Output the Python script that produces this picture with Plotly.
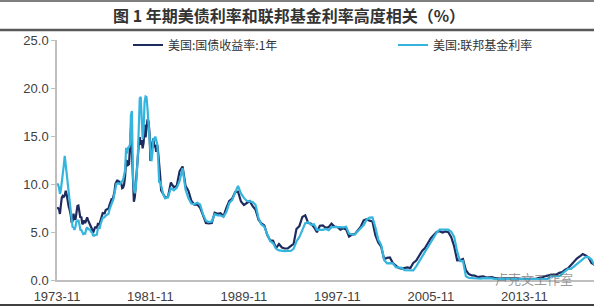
import pandas as pd
import plotly.graph_objects as go

# ---------------- data ----------------
# monthly 1973-11 .. 1982-12, then quarterly (Feb/May/Aug/Nov) 1983-02 .. 2020-02
dates_monthly = pd.date_range("1973-11-01", "1982-12-01", freq="MS")
dates_quarterly = pd.date_range("1983-02-01", "2020-02-01", freq="3MS")
dates = list(dates_monthly) + list(dates_quarterly)

treasury_1y = [
    # 1973-11..12
    7.45, 7.50,
    # 1974
    7.42, 6.88, 7.76, 8.62, 8.78, 8.67, 8.80, 9.30, 8.87, 8.05, 7.66, 7.31,
    # 1975
    6.83, 5.98, 6.11, 6.90, 6.39, 6.29, 7.11, 7.70, 7.75, 6.95, 6.49, 6.60,
    # 1976
    5.81, 5.91, 6.21, 5.92, 6.40, 6.52, 6.20, 6.00, 5.84, 5.50, 5.29, 4.89,
    # 1977
    5.29, 5.47, 5.50, 5.44, 5.84, 5.80, 5.94, 6.37, 6.53, 6.97, 6.95, 6.96,
    # 1978
    7.28, 7.34, 7.31, 7.45, 7.82, 8.09, 8.39, 8.31, 8.64, 9.14, 10.01, 10.30,
    # 1979
    10.41, 10.24, 10.25, 10.12, 10.12, 9.57, 9.64, 9.98, 10.84, 12.44, 12.39, 11.98,
    # 1980
    12.06, 13.92, 15.82, 13.30, 9.39, 8.16, 8.65, 10.24, 11.52, 12.49, 14.15, 14.88,
    # 1981
    14.08, 14.57, 13.71, 14.32, 16.20, 14.86, 15.72, 16.72, 16.52, 15.38, 12.41, 12.85,
    # 1982
    14.32, 14.73, 13.95, 13.98, 13.34, 14.07, 13.24, 11.43, 10.85, 9.32, 9.16, 8.91,
    # quarterly from 1983
    8.62, 8.63, 10.16, 9.66,
    9.81, 11.34, 11.82, 9.82,
    9.29, 8.25, 7.86, 7.88,
    7.51, 6.76, 5.93, 5.89,
    5.94, 7.01, 6.89, 6.96,
    6.64, 7.50, 8.24, 8.49,
    9.17, 9.20, 8.17, 7.81,
    8.00, 8.23, 7.69, 7.31,
    6.27, 5.90, 5.68, 4.69,
    4.13, 4.09, 3.32, 3.75,
    3.39, 3.28, 3.30, 3.57,
    3.76, 5.32, 5.62, 6.57,
    6.73, 5.95, 5.86, 5.50,
    4.97, 5.65, 5.68, 5.44,
    5.50, 5.87, 5.56, 5.52,
    5.24, 5.40, 5.27, 4.53,
    4.73, 4.78, 5.20, 5.55,
    6.22, 6.33, 6.18, 6.09,
    4.68, 3.91, 3.47, 2.18,
    2.30, 2.35, 1.76, 1.49,
    1.24, 1.18, 1.24, 1.31,
    1.24, 1.78, 2.02, 2.50,
    3.03, 3.33, 3.87, 4.35,
    4.68, 5.00, 5.08, 4.94,
    5.05, 4.98, 4.47, 3.50,
    2.05, 2.06, 2.19, 1.02,
    0.62, 0.48, 0.46, 0.31,
    0.35, 0.37, 0.25, 0.25,
    0.29, 0.19, 0.11, 0.11,
    0.16, 0.19, 0.17, 0.18,
    0.16, 0.12, 0.13, 0.12,
    0.12, 0.10, 0.11, 0.13,
    0.22, 0.24, 0.38, 0.48,
    0.53, 0.57, 0.57, 0.74,
    0.82, 1.08, 1.23, 1.56,
    1.94, 2.23, 2.45, 2.70,
    2.55, 2.34, 1.77, 1.57,
    1.41,
]

fed_funds = [
    # 1973-11..12
    10.03, 9.95,
    # 1974
    9.65, 8.97, 9.35, 10.51, 11.31, 11.93, 12.92, 12.01, 11.34, 10.06, 9.45, 8.53,
    # 1975
    7.13, 6.24, 5.54, 5.49, 5.22, 5.55, 6.10, 6.14, 6.24, 5.82, 5.22, 5.20,
    # 1976
    4.87, 4.77, 4.84, 4.82, 5.29, 5.48, 5.31, 5.29, 5.25, 5.02, 4.95, 4.65,
    # 1977
    4.61, 4.68, 4.69, 4.73, 5.35, 5.39, 5.42, 5.90, 6.14, 6.47, 6.51, 6.56,
    # 1978
    6.70, 6.78, 6.79, 6.89, 7.36, 7.60, 7.81, 8.04, 8.45, 8.96, 9.76, 10.03,
    # 1979
    10.07, 10.06, 10.09, 10.01, 10.24, 10.29, 10.47, 10.94, 11.43, 13.77, 13.18, 13.78,
    # 1980
    13.82, 14.13, 17.19, 17.61, 10.98, 9.47, 9.03, 9.61, 10.87, 12.81, 15.85, 18.90,
    # 1981
    19.08, 15.93, 14.70, 15.72, 18.52, 19.10, 19.04, 17.82, 15.87, 15.08, 13.31, 12.37,
    # 1982
    13.22, 14.78, 14.68, 14.94, 14.45, 14.15, 12.59, 10.12, 10.31, 9.71, 9.20, 8.95,
    # quarterly from 1983
    8.51, 8.63, 9.56, 9.34,
    9.59, 10.32, 11.64, 9.43,
    8.50, 7.97, 7.90, 8.05,
    7.86, 6.85, 6.17, 6.04,
    6.10, 6.85, 6.73, 6.72,
    6.58, 7.09, 8.01, 8.35,
    9.12, 9.81, 9.02, 8.55,
    8.24, 8.18, 8.13, 7.81,
    6.43, 5.78, 5.56, 4.76,
    4.06, 3.82, 3.26, 3.09,
    3.03, 3.00, 3.03, 3.02,
    3.25, 4.01, 4.47, 5.29,
    5.92, 6.01, 5.74, 5.80,
    5.22, 5.24, 5.22, 5.31,
    5.19, 5.50, 5.54, 5.52,
    5.51, 5.49, 5.55, 4.83,
    4.76, 4.74, 5.07, 5.42,
    5.73, 6.27, 6.50, 6.51,
    5.49, 4.21, 3.65, 2.09,
    1.74, 1.75, 1.74, 1.34,
    1.26, 1.26, 1.03, 1.00,
    1.01, 1.00, 1.43, 1.93,
    2.50, 3.00, 3.50, 4.00,
    4.49, 4.94, 5.25, 5.25,
    5.26, 5.25, 5.02, 4.49,
    2.98, 1.98, 2.00, 0.39,
    0.22, 0.18, 0.16, 0.12,
    0.13, 0.20, 0.19, 0.19,
    0.16, 0.09, 0.10, 0.08,
    0.10, 0.16, 0.13, 0.16,
    0.15, 0.11, 0.08, 0.08,
    0.07, 0.09, 0.09, 0.09,
    0.11, 0.12, 0.14, 0.12,
    0.38, 0.37, 0.40, 0.41,
    0.66, 0.91, 1.16, 1.16,
    1.42, 1.70, 1.91, 2.20,
    2.40, 2.38, 2.13, 1.55,
    1.58,
]

assert len(dates) == len(treasury_1y) == len(fed_funds), (len(dates), len(treasury_1y), len(fed_funds))

series_names = ["美国:国债收益率:1年", "美国:联邦基金利率"]
x_tick_dates = ["1973-11-01", "1981-11-01", "1989-11-01", "1997-11-01", "2005-11-01", "2013-11-01"]
x_tick_labels = ["1973-11", "1981-11", "1989-11", "1997-11", "2005-11", "2013-11"]
y_ticks = [0, 5, 10, 15, 20, 25]
title_text = "图 1 年期美债利率和联邦基金利率高度相关（%）"
watermark = "卢克文工作室"

# ---------------- figure ----------------
W, H = 594, 307
ML, MR, MT, MB = 57, 0, 40, 27
PW, PH = W - ML - MR, H - MT - MB

def px_x(p):
    return (p - ML) / PW

def px_y(p):
    return (H - MB - p) / PH

fig = go.Figure()
fig.add_trace(go.Scatter(x=dates, y=treasury_1y, name=series_names[0], mode="lines",
                         line=dict(color="#1d2b5e", width=2.2), legend="legend"))
fig.add_trace(go.Scatter(x=dates, y=fed_funds, name=series_names[1], mode="lines",
                         line=dict(color="#35b5de", width=2.2), legend="legend2"))

axis_font = dict(family="Liberation Sans, Arial, sans-serif", size=13, color="#404040")
legend_font = dict(family="Noto Sans CJK SC", size=12, color="#333333")

fig.update_layout(
    width=W, height=H,
    margin=dict(l=ML, r=MR, t=MT, b=MB),
    paper_bgcolor="white", plot_bgcolor="white",
    showlegend=True,
    legend=dict(orientation="h", x=px_x(128), y=px_y(45), xanchor="left", yanchor="middle",
                font=legend_font, bgcolor="rgba(0,0,0,0)", itemwidth=30),
    legend2=dict(orientation="h", x=px_x(393), y=px_y(45), xanchor="left", yanchor="middle",
                 font=legend_font, bgcolor="rgba(0,0,0,0)", itemwidth=30),
    xaxis=dict(type="date", range=["1973-11-01", "2019-10-20"],
               tickvals=x_tick_dates, ticktext=x_tick_labels,
               showline=True, linecolor="#bfbfbf", linewidth=1.5,
               ticks="", showgrid=False, zeroline=False, tickfont=axis_font,
               ticklabelstandoff=4),
    yaxis=dict(range=[0, 25], tickvals=y_ticks, tickformat=".1f",
               showline=True, linecolor="#bfbfbf", linewidth=1.5,
               ticks="outside", ticklen=4, tickcolor="#bfbfbf",
               showgrid=False, zeroline=False, tickfont=axis_font),
)

# title band
fig.add_annotation(text=title_text, xref="paper", yref="paper",
                   x=px_x(289), y=px_y(15), xanchor="center", yanchor="middle",
                   showarrow=False,
                   font=dict(family="Noto Sans CJK SC", size=16, color="#333333", weight="bold"))
fig.add_shape(type="line", xref="paper", yref="paper", x0=px_x(0), x1=px_x(W), y0=px_y(1), y1=px_y(1),
              line=dict(color="#7f7f7f", width=2))
fig.add_shape(type="line", xref="paper", yref="paper", x0=px_x(0), x1=px_x(W), y0=px_y(30), y1=px_y(30),
              line=dict(color="#595959", width=2.5))
fig.add_shape(type="line", xref="paper", yref="paper", x0=px_x(0), x1=px_x(W), y0=px_y(305), y1=px_y(305),
              line=dict(color="#404040", width=2))

# watermark
fig.add_annotation(text=watermark, xref="paper", yref="paper",
                   x=px_x(534), y=px_y(278), xanchor="center", yanchor="middle", showarrow=False,
                   font=dict(family="Noto Sans CJK SC", size=13, color="rgba(110,110,110,0.7)"))

fig.write_html("out.html")
